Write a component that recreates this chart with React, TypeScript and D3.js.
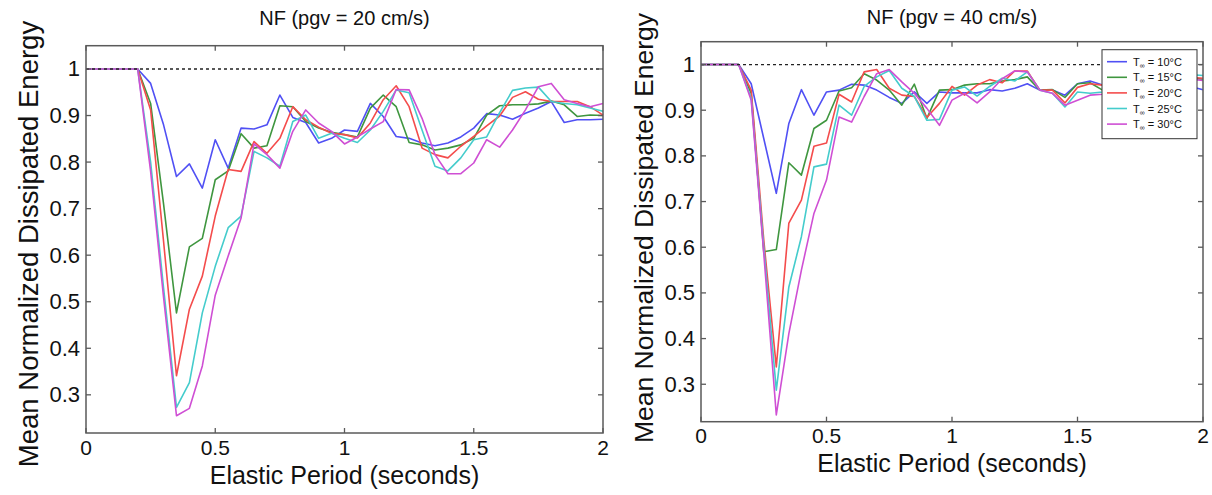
import React from "react";
import * as d3 from "d3";

// elastic period grid (seconds)
const periods = [
  0, 0.05, 0.1, 0.15, 0.2, 0.25, 0.3, 0.35, 0.4, 0.45, 0.5, 0.55, 0.6, 0.65,
  0.7, 0.75, 0.8, 0.85, 0.9, 0.95, 1.0, 1.05, 1.1, 1.15, 1.2, 1.25, 1.3, 1.35,
  1.4, 1.45, 1.5, 1.55, 1.6, 1.65, 1.7, 1.75, 1.8, 1.85, 1.9, 1.95, 2.0,
];

const legendLabels = ["10", "15", "20", "25", "30"];
const xTicks = [0, 0.5, 1, 1.5, 2];
const yTicks = [0.3, 0.4, 0.5, 0.6, 0.7, 0.8, 0.9, 1];

// pgv = 20 cm/s
const pgv20T10 = [1, 1, 1, 1, 1, 0.969, 0.88, 0.769, 0.796, 0.744, 0.848, 0.787, 0.873, 0.871, 0.88, 0.944, 0.896, 0.885, 0.841, 0.851, 0.869, 0.866, 0.926, 0.898, 0.855, 0.851, 0.841, 0.835, 0.841, 0.854, 0.873, 0.904, 0.901, 0.892, 0.905, 0.916, 0.93, 0.885, 0.891, 0.891, 0.892];
const pgv20T15 = [1, 1, 1, 1, 1, 0.926, 0.71, 0.476, 0.618, 0.636, 0.762, 0.781, 0.861, 0.83, 0.835, 0.921, 0.919, 0.887, 0.873, 0.864, 0.859, 0.854, 0.916, 0.944, 0.919, 0.842, 0.837, 0.826, 0.83, 0.837, 0.851, 0.901, 0.921, 0.923, 0.923, 0.925, 0.931, 0.923, 0.898, 0.901, 0.9];
const pgv20T20 = [1, 1, 1, 1, 1, 0.912, 0.63, 0.341, 0.484, 0.555, 0.684, 0.784, 0.78, 0.844, 0.819, 0.851, 0.919, 0.891, 0.875, 0.862, 0.859, 0.852, 0.884, 0.934, 0.964, 0.919, 0.83, 0.816, 0.809, 0.834, 0.855, 0.878, 0.899, 0.939, 0.951, 0.935, 0.93, 0.93, 0.93, 0.919, 0.901];
const pgv20T25 = [1, 1, 1, 1, 1, 0.8, 0.53, 0.273, 0.326, 0.476, 0.576, 0.659, 0.684, 0.823, 0.809, 0.791, 0.887, 0.901, 0.851, 0.862, 0.851, 0.842, 0.869, 0.909, 0.955, 0.949, 0.869, 0.791, 0.781, 0.809, 0.848, 0.854, 0.906, 0.954, 0.959, 0.961, 0.93, 0.926, 0.923, 0.916, 0.909];
const pgv20T30 = [1, 1, 1, 1, 1, 0.78, 0.51, 0.255, 0.271, 0.362, 0.514, 0.598, 0.68, 0.839, 0.816, 0.787, 0.866, 0.912, 0.884, 0.866, 0.839, 0.854, 0.871, 0.887, 0.956, 0.955, 0.894, 0.816, 0.775, 0.775, 0.798, 0.848, 0.832, 0.869, 0.912, 0.962, 0.969, 0.934, 0.926, 0.919, 0.926];

// pgv = 40 cm/s
const pgv40T10 = [1, 1, 1, 1, 0.958, 0.838, 0.718, 0.871, 0.945, 0.889, 0.94, 0.944, 0.957, 0.955, 0.944, 0.928, 0.915, 0.94, 0.915, 0.94, 0.938, 0.938, 0.938, 0.945, 0.942, 0.948, 0.958, 0.944, 0.944, 0.933, 0.958, 0.964, 0.955, 0.958, 0.955, 0.952, 0.955, 0.95, 0.948, 0.952, 0.945];
const pgv40T15 = [1, 1, 1, 1, 0.937, 0.59, 0.595, 0.785, 0.758, 0.86, 0.878, 0.942, 0.949, 0.98, 0.966, 0.944, 0.911, 0.957, 0.882, 0.944, 0.945, 0.955, 0.958, 0.958, 0.964, 0.967, 0.973, 0.944, 0.945, 0.928, 0.958, 0.96, 0.944, 0.955, 0.962, 0.96, 0.965, 0.962, 0.966, 0.97, 0.968];
const pgv40T20 = [1, 1, 1, 1, 0.944, 0.616, 0.338, 0.653, 0.703, 0.821, 0.828, 0.935, 0.918, 0.984, 0.989, 0.948, 0.933, 0.93, 0.884, 0.915, 0.952, 0.933, 0.955, 0.967, 0.96, 0.986, 0.986, 0.944, 0.944, 0.916, 0.95, 0.958, 0.955, 0.962, 0.958, 0.965, 0.962, 0.968, 0.966, 0.972, 0.97];
const pgv40T25 = [1, 1, 1, 1, 0.926, 0.601, 0.287, 0.513, 0.623, 0.776, 0.782, 0.911, 0.889, 0.952, 0.973, 0.987, 0.948, 0.93, 0.878, 0.88, 0.944, 0.951, 0.931, 0.952, 0.97, 0.964, 0.984, 0.944, 0.937, 0.907, 0.94, 0.937, 0.94, 0.95, 0.958, 0.962, 0.966, 0.97, 0.974, 0.978, 0.976];
const pgv40T30 = [1, 1, 1, 1, 0.922, 0.587, 0.233, 0.411, 0.55, 0.674, 0.747, 0.885, 0.874, 0.93, 0.98, 0.989, 0.962, 0.937, 0.904, 0.867, 0.922, 0.937, 0.916, 0.94, 0.969, 0.986, 0.984, 0.944, 0.937, 0.911, 0.922, 0.933, 0.935, 0.945, 0.952, 0.958, 0.962, 0.96, 0.964, 0.968, 0.965];

const colors = ["#5050f4", "#3f963f", "#f44c4c", "#44cccc", "#cf4fd4"];
const font = "'Liberation Sans', Arial, Helvetica, sans-serif";

type PanelProps = {
  title: string;
  series: number[][];
  left: number;
  top: number;
  width: number;
  height: number;
  labelFont: number;
  yLabelX: number;
  yLabelY: number;
  xLabelY: number;
  titleY: number;
  legend?: boolean;
};

const Panel = ({ title, series, left, top, width, height, labelFont, yLabelX, yLabelY, xLabelY, titleY, legend }: PanelProps) => {
  const x = d3.scaleLinear().domain([0, 2]).range([left, left + width]);
  const y = d3.scaleLinear().domain([0.218, 1.05]).range([top + height, top]);
  const line = d3
    .line<number>()
    .x((_, i) => x(periods[i]))
    .y((d) => y(d));

  const bottom = top + height;
  const right = left + width;
  const tk = 5;
  const lx = right - 101;
  const ly = top + 8;

  return (
    <g>
      <text x={x(1)} y={titleY} textAnchor="middle" dominantBaseline="central" fontSize={20} fontFamily={font} fill="#111">
        {title}
      </text>

      {series.map((s, i) => (
        <path key={i} d={line(s) || ""} fill="none" stroke={colors[i]} strokeWidth={1.6} strokeLinejoin="round" />
      ))}

      {/* reference line at 1 */}
      <line x1={x(0)} x2={x(2)} y1={y(1)} y2={y(1)} stroke="#222" strokeWidth={1.3} strokeDasharray="3,3" />

      {/* frame and ticks */}
      <rect x={left} y={top} width={width} height={height} fill="none" stroke="#5a5a5a" strokeWidth={1.5} />
      {xTicks.map((t) => (
        <g key={"x" + t}>
          <line x1={x(t)} x2={x(t)} y1={bottom} y2={bottom - tk} stroke="#5a5a5a" strokeWidth={1.3} />
          <line x1={x(t)} x2={x(t)} y1={top} y2={top + tk} stroke="#5a5a5a" strokeWidth={1.3} />
          <text x={x(t)} y={bottom + 14} textAnchor="middle" dominantBaseline="central" fontSize={21} fontFamily={font} fill="#111">
            {t}
          </text>
        </g>
      ))}
      {yTicks.map((t) => (
        <g key={"y" + t}>
          <line x1={left} x2={left + tk} y1={y(t)} y2={y(t)} stroke="#5a5a5a" strokeWidth={1.3} />
          <line x1={right} x2={right - tk} y1={y(t)} y2={y(t)} stroke="#5a5a5a" strokeWidth={1.3} />
          <text x={left - 6} y={y(t)} textAnchor="end" dominantBaseline="central" fontSize={22} fontFamily={font} fill="#111">
            {d3.format("~g")(t)}
          </text>
        </g>
      ))}

      <text x={x(1)} y={xLabelY} textAnchor="middle" dominantBaseline="central" fontSize={25} fontFamily={font} fill="#111">
        Elastic Period (seconds)
      </text>
      <text
        transform={`translate(${yLabelX},${yLabelY}) rotate(-90)`}
        textAnchor="middle"
        dominantBaseline="central"
        fontSize={labelFont}
        fontFamily={font}
        fill="#111"
      >
        Mean Normalized Dissipated Energy
      </text>

      {legend && (
        <g>
          <rect x={lx} y={ly} width={95} height={89} fill="#fff" stroke="#333" strokeWidth={1} />
          {legendLabels.map((lab, i) => (
            <g key={lab} transform={`translate(${lx}, ${ly + 12 + i * 15.6})`}>
              <line x1={5} x2={25} y1={0} y2={0} stroke={colors[i]} strokeWidth={1.6} />
              <text x={31} y={0} dominantBaseline="central" fontSize={11} fontFamily={font} fill="#111">
                T
                <tspan fontSize={7} dy={3}>∞</tspan>
                <tspan dy={-3}> = {lab}°C</tspan>
              </text>
            </g>
          ))}
        </g>
      )}
    </g>
  );
};

const App = () => {
  return (
    <svg
      width={1212}
      height={495}
      style={{ position: "absolute", left: 0, top: 0, background: "#fff" }}
    >
      <rect width={1212} height={495} fill="#fff" />
      <Panel
        title="NF (pgv = 20 cm/s)"
        series={[pgv20T10, pgv20T15, pgv20T20, pgv20T25, pgv20T30]}
        left={86}
        top={45.7}
        width={517}
        height={387.3}
        labelFont={27.5}
        yLabelX={28}
        yLabelY={244}
        xLabelY={475}
        titleY={18}
      />
      <Panel
        title="NF (pgv = 40 cm/s)"
        series={[pgv40T10, pgv40T15, pgv40T20, pgv40T25, pgv40T30]}
        left={701}
        top={41.7}
        width={502}
        height={380}
        labelFont={26.5}
        yLabelX={644}
        yLabelY={228}
        xLabelY={463}
        titleY={17}
        legend
      />
    </svg>
  );
};

export default App;
